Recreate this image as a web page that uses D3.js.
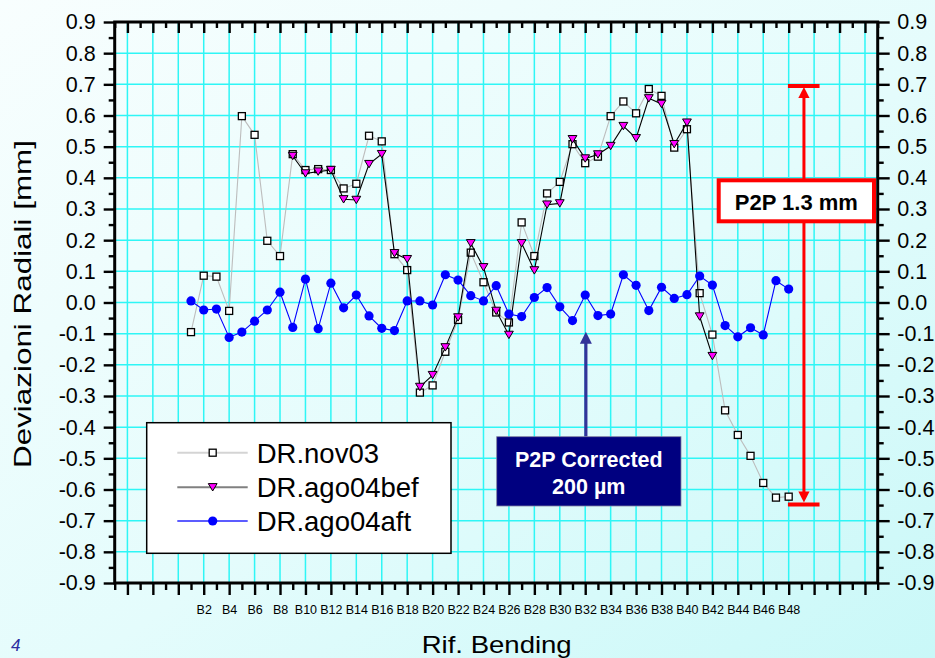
<!DOCTYPE html>
<html>
<head>
<meta charset="utf-8">
<script src="https://cdn.jsdelivr.net/npm/d3@7"></script>
<style>
  html, body { margin: 0; padding: 0; }
  body { width: 935px; height: 658px; overflow: hidden; }
  svg { display: block; font-family: "Liberation Sans", Arial, sans-serif; }
</style>
</head>
<body>
<svg id="chart" width="935" height="658"></svg>
<script>
// Bending positions B1..B48
const categories = [
  "B1","B2","B3","B4","B5","B6","B7","B8","B9","B10","B11","B12",
  "B13","B14","B15","B16","B17","B18","B19","B20","B21","B22","B23","B24",
  "B25","B26","B27","B28","B29","B30","B31","B32","B33","B34","B35","B36",
  "B37","B38","B39","B40","B41","B42","B43","B44","B45","B46","B47","B48"
];

// Radial deviations [mm]
const nov03 = [
  -0.095, 0.086, 0.083, -0.027, 0.598, 0.538, 0.198, 0.149, 0.476, 0.425, 0.428, 0.425,
  0.366, 0.381, 0.535, 0.517, 0.155, 0.104, -0.289, -0.266, -0.158, -0.056, 0.160, 0.065,
  -0.032, -0.064, 0.257, 0.149, 0.350, 0.387, 0.508, 0.447, 0.468, 0.598, 0.645, 0.607,
  0.685, 0.663, 0.497, 0.556, 0.030, -0.103, -0.346, -0.425, -0.492, -0.579, -0.626, -0.623
];
const ago04bef = [
  null, null, null, null, null, null, null, null, 0.470, 0.414, 0.420, 0.425,
  0.331, 0.329, 0.444, 0.476, 0.158, 0.139, -0.271, -0.233, -0.144, -0.048, 0.190, 0.113,
  -0.027, -0.104, 0.190, 0.103, 0.314, 0.318, 0.524, 0.462, 0.475, 0.502, 0.566, 0.527,
  0.655, 0.637, 0.508, 0.577, -0.045, -0.172, null, null, null, null, null, null
];
const ago04aft = [
  0.005, -0.024, -0.021, -0.112, -0.095, -0.060, -0.024, 0.033, -0.080, 0.075, -0.084, 0.062,
  -0.017, 0.024, -0.043, -0.083, -0.090, 0.005, 0.005, -0.008, 0.089, 0.072, 0.022, 0.005,
  0.054, -0.037, -0.045, 0.016, 0.048, -0.014, -0.058, 0.024, -0.042, -0.037, 0.089, 0.055,
  -0.026, 0.049, 0.013, 0.025, 0.085, 0.056, -0.074, -0.110, -0.081, -0.104, 0.070, 0.043
];

const seriesNames = ["DR.nov03", "DR.ago04bef", "DR.ago04aft"];
const yTickValues = d3.range(-9, 10).map(d => d / 10);
const yMinorValues = d3.range(-9, 9).map(d => d / 10 + 0.05);

// Peak-to-peak annotations
const p2pRange = { top: 0.695, bottom: -0.648, pos: 49.2, label: "P2P 1.3 mm" };
const p2pCorrected = { pos: 32.05, value: -0.094, lines: ["P2P Corrected", "200 \u00b5m"] };

const svg = d3.select("#chart");
const W = 935, H = 658;
const plotL = 114.7, plotR = 877.7, plotT = 22, plotB = 583;

// background gradient
const defs = svg.append("defs");
const grad = defs.append("linearGradient").attr("id", "bg")
  .attr("x1", "0").attr("y1", "0").attr("x2", "1").attr("y2", "1");
grad.append("stop").attr("offset", "0%").attr("stop-color", "#f8fefe");
grad.append("stop").attr("offset", "55%").attr("stop-color", "#e4fcfc");
grad.append("stop").attr("offset", "100%").attr("stop-color", "#c9f8f8");
svg.append("rect").attr("width", W).attr("height", H).attr("fill", "url(#bg)");

// category index 1..48 on a linear axis, with margins on both sides
const x = d3.scaleLinear().domain([-5, 55]).range([plotL, plotR]);
const y = d3.scaleLinear().domain([-0.9, 0.9]).range([plotB, plotT]);

const majorX = d3.range(-4, 55, 2);
const minorX = d3.range(-5, 56, 2);

// grid
const grid = svg.append("g").attr("stroke", "#2ef6f6").attr("stroke-width", 1.5);
grid.selectAll("line.v").data(majorX).join("line").attr("class", "v")
  .attr("x1", d => x(d)).attr("x2", d => x(d)).attr("y1", plotT).attr("y2", plotB);
grid.selectAll("line.h").data(yTickValues.slice(1, -1)).join("line").attr("class", "h")
  .attr("x1", plotL).attr("x2", plotR).attr("y1", d => y(d)).attr("y2", d => y(d));

// axes
const fmtY = d => d3.format(".1f")(d).replace("\u2212", "-");
const labelFor = d => (d >= 1 && d <= categories.length) ? categories[d - 1] : "";

function styleAxis(g, fontSize) {
  g.select(".domain").remove();
  g.selectAll(".tick line").attr("stroke", "#000").attr("stroke-width", 2.4);
  g.selectAll(".tick text").attr("fill", "#000").attr("font-size", fontSize)
    .attr("font-family", "Liberation Sans, Arial, sans-serif");
}

// bottom
svg.append("g").attr("transform", `translate(0,${plotB})`)
  .call(d3.axisBottom(x).tickValues(majorX).tickSize(12).tickSizeOuter(0)
    .tickPadding(10).tickFormat(d => (d >= 2 && d <= 48) ? labelFor(d) : ""))
  .call(g => styleAxis(g, "12.5px"));
svg.append("g").attr("transform", `translate(0,${plotB})`)
  .call(d3.axisBottom(x).tickValues(minorX).tickSize(7).tickSizeOuter(0).tickFormat(""))
  .call(g => styleAxis(g, "12px"));
// top (inward ticks)
svg.append("g").attr("transform", `translate(0,${plotT})`)
  .call(d3.axisBottom(x).tickValues(majorX).tickSize(11).tickSizeOuter(0).tickFormat(""))
  .call(g => styleAxis(g, "12px"));
svg.append("g").attr("transform", `translate(0,${plotT})`)
  .call(d3.axisBottom(x).tickValues(minorX).tickSize(6).tickSizeOuter(0).tickFormat(""))
  .call(g => styleAxis(g, "12px"));
// left
svg.append("g").attr("transform", `translate(${plotL},0)`)
  .call(d3.axisLeft(y).tickValues(yTickValues).tickSize(11).tickSizeOuter(0).tickPadding(8).tickFormat(fmtY))
  .call(g => styleAxis(g, "21.5px"));
svg.append("g").attr("transform", `translate(${plotL},0)`)
  .call(d3.axisLeft(y).tickValues(yMinorValues).tickSize(6).tickSizeOuter(0).tickFormat(""))
  .call(g => styleAxis(g, "12px"));
// right
svg.append("g").attr("transform", `translate(${plotR},0)`)
  .call(d3.axisRight(y).tickValues(yTickValues).tickSize(12).tickSizeOuter(0).tickPadding(7.6).tickFormat(fmtY))
  .call(g => styleAxis(g, "21.5px"));
svg.append("g").attr("transform", `translate(${plotR},0)`)
  .call(d3.axisRight(y).tickValues(yMinorValues).tickSize(6).tickSizeOuter(0).tickFormat(""))
  .call(g => styleAxis(g, "12px"));

// frame
svg.append("rect").attr("x", plotL).attr("y", plotT).attr("width", plotR - plotL).attr("height", plotB - plotT)
  .attr("fill", "none").attr("stroke", "#000").attr("stroke-width", 3);

// axis titles
svg.append("text").attr("x", 496.7).attr("y", 653).attr("text-anchor", "middle")
  .attr("font-size", "24px").attr("textLength", 150).attr("lengthAdjust", "spacingAndGlyphs")
  .attr("fill", "#000").text("Rif. Bending");
svg.append("text").attr("transform", "translate(31,304) rotate(-90)").attr("text-anchor", "middle")
  .attr("font-size", "24.5px").attr("textLength", 328).attr("lengthAdjust", "spacingAndGlyphs")
  .attr("fill", "#000").text("Deviazioni Radiali [mm]");

// series
const trianglePath = "M-4.4,-3.7L4.4,-3.7L0,3.7Z";
const toPoints = arr => arr.map((v, i) => ({ i: i + 1, v })).filter(p => p.v !== null);
const line = d3.line().x(p => x(p.i)).y(p => y(p.v));

const sNov = toPoints(nov03), sBef = toPoints(ago04bef), sAft = toPoints(ago04aft);

svg.append("path").datum(sNov).attr("d", line).attr("fill", "none").attr("stroke", "#bdbdbd").attr("stroke-width", 1.1);
svg.append("g").selectAll("rect").data(sNov).join("rect")
  .attr("x", p => x(p.i) - 3.5).attr("y", p => y(p.v) - 3.5).attr("width", 7).attr("height", 7)
  .attr("fill", "#fff").attr("stroke", "#000").attr("stroke-width", 1.3);

svg.append("path").datum(sBef).attr("d", line).attr("fill", "none").attr("stroke", "#000").attr("stroke-width", 1.1);
svg.append("g").selectAll("path").data(sBef).join("path")
  .attr("transform", p => `translate(${x(p.i)},${y(p.v)})`).attr("d", trianglePath)
  .attr("fill", "#ff00ff").attr("stroke", "#000").attr("stroke-width", 1);

svg.append("path").datum(sAft).attr("d", line).attr("fill", "none").attr("stroke", "#0000ff").attr("stroke-width", 1.1);
svg.append("g").selectAll("circle").data(sAft).join("circle")
  .attr("cx", p => x(p.i)).attr("cy", p => y(p.v)).attr("r", 4.6).attr("fill", "#0000ff");

// legend
const lg = svg.append("g");
lg.append("rect").attr("x", 146.7).attr("y", 422.7).attr("width", 304.3).attr("height", 130.6)
  .attr("fill", "#fff").attr("stroke", "#000").attr("stroke-width", 1.5);
const legendRows = [
  { name: seriesNames[0], y: 452.7, line: "#d4d4d4", baseline: 463.3 },
  { name: seriesNames[1], y: 487.3, line: "#808080", baseline: 497.3 },
  { name: seriesNames[2], y: 521, line: "#5c5cff", baseline: 531 }
];
legendRows.forEach((r, k) => {
  lg.append("line").attr("x1", 177.3).attr("x2", 247.7).attr("y1", r.y).attr("y2", r.y)
    .attr("stroke", r.line).attr("stroke-width", 2);
  if (k === 0) {
    lg.append("rect").attr("x", 212.7 - 3.5).attr("y", r.y - 3.5).attr("width", 7).attr("height", 7)
      .attr("fill", "#fff").attr("stroke", "#000").attr("stroke-width", 1.3);
  } else if (k === 1) {
    lg.append("path").attr("transform", `translate(212.7,${r.y})`).attr("d", trianglePath)
      .attr("fill", "#ff00ff").attr("stroke", "#000").attr("stroke-width", 1);
  } else {
    lg.append("circle").attr("cx", 212.7).attr("cy", r.y).attr("r", 4.6).attr("fill", "#0000ff");
  }
  lg.append("text").attr("x", 256.7).attr("y", r.baseline).attr("font-size", "27.5px")
    .attr("fill", "#000").text(r.name);
});

// P2P range marker (red)
const red = "#ff0000";
const rx = x(p2pRange.pos), yTop = y(p2pRange.top), yBot = y(p2pRange.bottom);
const ann = svg.append("g");
ann.append("line").attr("x1", rx).attr("x2", rx).attr("y1", yTop + 8).attr("y2", yBot - 8)
  .attr("stroke", red).attr("stroke-width", 3);
ann.append("line").attr("x1", rx - 16).attr("x2", rx + 15.6).attr("y1", yTop).attr("y2", yTop)
  .attr("stroke", red).attr("stroke-width", 4);
ann.append("line").attr("x1", rx - 16).attr("x2", rx + 15.6).attr("y1", yBot).attr("y2", yBot)
  .attr("stroke", red).attr("stroke-width", 4);
ann.append("path").attr("d", `M${rx},${yTop + 1}L${rx - 5.6},${yTop + 12}L${rx + 5.6},${yTop + 12}Z`).attr("fill", red);
ann.append("path").attr("d", `M${rx},${yBot - 2}L${rx - 5.6},${yBot - 13}L${rx + 5.6},${yBot - 13}Z`).attr("fill", red);
ann.append("rect").attr("x", 718.7).attr("y", 180.3).attr("width", 155.3).attr("height", 41)
  .attr("fill", "#fff").attr("stroke", red).attr("stroke-width", 4);
ann.append("text").attr("x", 796.3).attr("y", 209.5).attr("text-anchor", "middle")
  .attr("font-size", "22px").attr("font-weight", "bold").attr("fill", "#000").text(p2pRange.label);

// P2P corrected marker (navy)
const nx = x(p2pCorrected.pos), ny = y(p2pCorrected.value);
const boxTop = 436.7;
ann.append("line").attr("x1", nx).attr("x2", nx).attr("y1", ny + 8).attr("y2", boxTop)
  .attr("stroke", "#333399").attr("stroke-width", 3.2);
ann.append("path").attr("d", `M${nx},${ny}L${nx - 6},${ny + 12}L${nx + 6},${ny + 12}Z`).attr("fill", "#333399");
ann.append("rect").attr("x", 496.7).attr("y", boxTop).attr("width", 184.3).attr("height", 69.3)
  .attr("fill", "#000080").attr("stroke", "#8080a0").attr("stroke-width", 0.8);
p2pCorrected.lines.forEach((t, k) => {
  ann.append("text").attr("x", 588.8).attr("y", k === 0 ? 466.7 : 494).attr("text-anchor", "middle")
    .attr("font-size", "21.5px").attr("font-weight", "bold").attr("fill", "#fff").text(t);
});

// slide number
svg.append("text").attr("x", 11).attr("y", 651).attr("font-family", "Liberation Sans, Arial, sans-serif")
  .attr("font-style", "italic").attr("font-size", "17px").attr("fill", "#2d2da0").text("4");
</script>
</body>
</html>
